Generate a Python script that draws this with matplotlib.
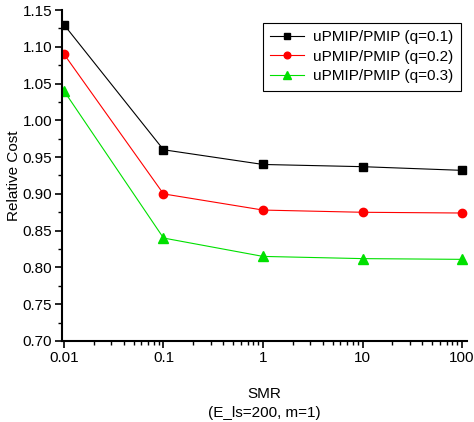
import matplotlib
matplotlib.use("Agg")
import matplotlib.pyplot as plt
from matplotlib.ticker import MultipleLocator, FixedLocator, FixedFormatter, FormatStrFormatter

plt.rcParams['font.family'] = ['Liberation Sans', 'DejaVu Sans']

smr = [0.01, 0.1, 1, 10, 100]
smr_labels = ["0.01", "0.1", "1", "10", "100"]
q01 = [1.13, 0.96, 0.940, 0.937, 0.932]
q02 = [1.09, 0.90, 0.878, 0.875, 0.874]
q03 = [1.04, 0.84, 0.815, 0.812, 0.811]
labels = ["uPMIP/PMIP (q=0.1)", "uPMIP/PMIP (q=0.2)", "uPMIP/PMIP (q=0.3)"]

fig = plt.figure(figsize=(4.74, 4.22), dpi=100)
ax = fig.add_axes([62/474, 1-341/422, (467-62)/474, (341-10)/422])

ax.plot(smr, q01, color='black', lw=0.8, marker='s', ms=5.5, label=labels[0])
ax.plot(smr, q02, color='red', lw=0.8, marker='o', ms=6, label=labels[1])
ax.plot(smr, q03, color='#00e000', lw=0.8, marker='^', ms=6.5, label=labels[2])

ax.set_xscale('log')
ax.set_xlim(10**(-2-0.02), 10**(2+0.05))
ax.set_ylim(0.70, 1.15)
ax.xaxis.set_major_locator(FixedLocator(smr))
ax.xaxis.set_major_formatter(FixedFormatter(smr_labels))
ax.yaxis.set_major_locator(MultipleLocator(0.05))
ax.yaxis.set_minor_locator(MultipleLocator(0.025))
ax.yaxis.set_major_formatter(FormatStrFormatter('%.2f'))

for s in ['top', 'right']:
    ax.spines[s].set_visible(False)
for s in ['left', 'bottom']:
    ax.spines[s].set_linewidth(1.5)

ax.tick_params(which='major', direction='out', length=5, width=1.2, labelsize=11, pad=2)
ax.tick_params(which='minor', direction='out', length=3, width=1.0)

ax.set_ylabel("Relative Cost", fontsize=11, labelpad=1)
ax.set_xlabel("SMR\n(E_ls=200, m=1)", fontsize=11, labelpad=16, linespacing=1.45)

leg = ax.legend(loc='upper right', bbox_to_anchor=(461/474, 1-22.7/422), bbox_transform=fig.transFigure,
                borderaxespad=0, fancybox=False, framealpha=1, edgecolor='black', fontsize=11,
                handlelength=2.2, handletextpad=0.6, labelspacing=0.36, borderpad=0.5,
                markerscale=0.8)
leg.get_frame().set_linewidth(0.8)

fig.savefig("out.png", dpi=100)
